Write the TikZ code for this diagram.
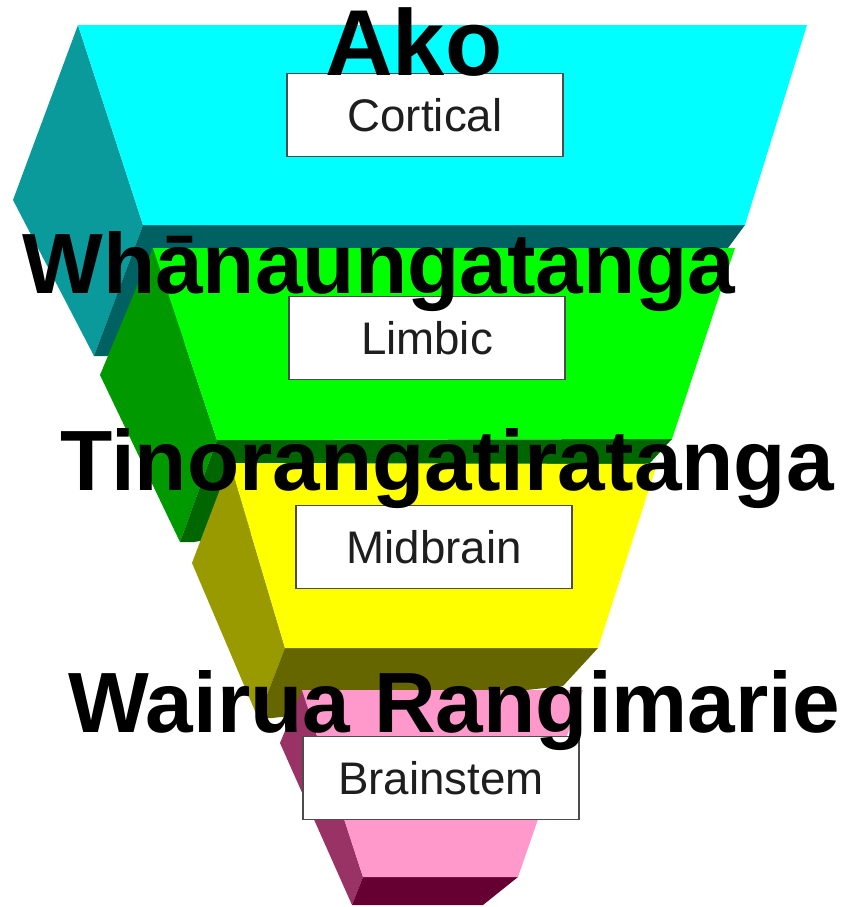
\documentclass[tikz,border=0pt]{standalone}
\usepackage{fontspec}
\setmainfont{Liberation Sans}
\definecolor{cyanfront}{HTML}{00FFFF}
\definecolor{cyanside}{HTML}{0A9A9C}
\definecolor{cyanbase}{HTML}{006163}
\definecolor{greenfront}{HTML}{00FF00}
\definecolor{greenside}{HTML}{009900}
\definecolor{greenbase}{HTML}{006600}
\definecolor{yellowfront}{HTML}{FFFF00}
\definecolor{yellowside}{HTML}{999900}
\definecolor{yellowbase}{HTML}{666600}
\definecolor{pinkfront}{HTML}{FF99CC}
\definecolor{pinkside}{HTML}{993366}
\definecolor{pinkbase}{HTML}{660033}
\definecolor{boxtext}{HTML}{1E1E1E}

\begin{document}
\begin{tikzpicture}[x=0.02cm,y=-0.02cm,
  levelbox/.style={draw=black!70,line width=0.7pt,fill=white,inner sep=0pt,
    minimum width=5.52cm,minimum height=1.66cm,text=boxtext,
    font=\fontsize{26}{28}\selectfont},
  bigword/.style={anchor=base west,inner sep=0pt,
    font=\bfseries\fontsize{48.7}{51}\selectfont}]
\useasboundingbox (0,0) rectangle (846,907);

\fill[cyanside] (78,25) -- (13,200) -- (94,356) -- (143,225) -- cycle;
\fill[cyanbase] (143,225) -- (745,225) -- (728,248) -- (108,356) -- (94,356) -- cycle;
\fill[cyanfront] (78,25) -- (807,25) -- (745,225) -- (143,225) -- cycle;

\fill[greenside] (153,248) -- (100,375) -- (180,542) -- (217,440) -- cycle;
\fill[greenbase] (217,440) -- (672,439) -- (650,463) -- (194,542) -- (180,542) -- cycle;
\fill[greenfront] (153,248) -- (735,248) -- (672,439) -- (217,440) -- cycle;

\fill[yellowside] (230,463) -- (192,563) -- (258,718) -- (285,648) -- cycle;
\fill[yellowbase] (285,648) -- (598,648) -- (563,686) -- (272,718) -- (258,718) -- cycle;
\fill[yellowfront] (230,463) -- (657,464) -- (598,648) -- (285,648) -- cycle;

\fill[pinkside] (302,690) -- (280,743) -- (352,905) -- (363,877) -- cycle;
\fill[pinkbase] (363,877) -- (518,877) -- (483,905) -- (360,905) -- (352,905) -- cycle;
\fill[pinkfront] (302,690) -- (583,690) -- (518,877) -- (363,877) -- cycle;

\node[levelbox] (cortical) at (425,115) {Cortical};
\node[levelbox] (limbic) at (427,338) {Limbic};
\node[levelbox] (midbrain) at (434,547) {Midbrain};
\node[levelbox] (brainstem) at (441,778) {Brainstem};

\node[bigword,font=\bfseries\fontsize{53.3}{56}\selectfont] (ako) at (325,75) {Ako};
\node[bigword] (whanau) at (22,293) {Whānaungatanga};
\node[bigword] (tino) at (60,490) {Tinorangatiratanga};
\node[bigword] (wairua) at (68,732) {Wairua Rangimarie};
\end{tikzpicture}
\end{document}
